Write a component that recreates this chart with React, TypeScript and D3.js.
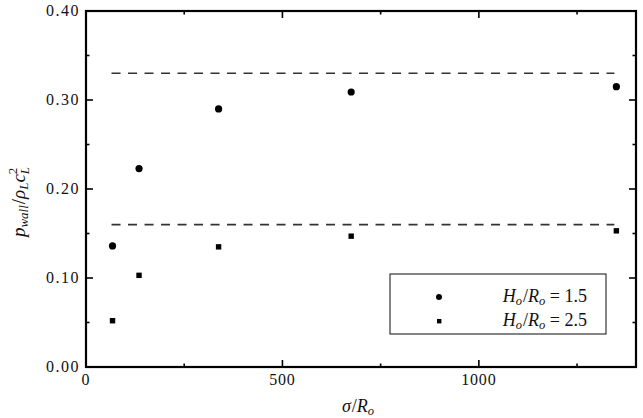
import React from "react";
import * as d3 from "d3";

// sigma / R_o positions of the runs
const sigmaValues = [67.5, 135, 337.5, 675, 1350];
// p_wall / rho_L c_L^2 for each nozzle height
const seriesH15 = [0.136, 0.223, 0.29, 0.309, 0.315];
const seriesH25 = [0.052, 0.103, 0.135, 0.147, 0.153];
// dashed reference levels
const limitLevels = [0.33, 0.16];
const limitRange = [65, 1345];

const xMajor = [0, 500, 1000];
const xMinor = [250, 750, 1250];
const yMajor = [0, 0.1, 0.2, 0.3, 0.4];
const yMinor = [0.05, 0.15, 0.25, 0.35];

const W = 643;
const H = 418;
const margin = { top: 11, right: 7, bottom: 51, left: 86 };

const serif = "'Liberation Serif', 'DejaVu Serif', serif";

export default function App() {
  const x = d3
    .scaleLinear()
    .domain([0, 1400])
    .range([margin.left, W - margin.right]);
  const y = d3
    .scaleLinear()
    .domain([0, 0.4])
    .range([H - margin.bottom, margin.top]);

  const [x0, x1] = x.range();
  const [y0, y1] = y.range();

  const pts1 = sigmaValues.map((s, i) => ({ s, v: seriesH15[i] }));
  const pts2 = sigmaValues.map((s, i) => ({ s, v: seriesH25[i] }));

  return (
    <svg
      width={W}
      height={H}
      style={{ position: "absolute", left: 0, top: 0, background: "#fff" }}
      fontFamily={serif}
    >
      <rect x={0} y={0} width={W} height={H} fill="#fff" />

      {/* reference levels */}
      {limitLevels.map((lv) => (
        <line
          key={lv}
          x1={x(limitRange[0])}
          x2={x(limitRange[1])}
          y1={y(lv)}
          y2={y(lv)}
          stroke="#333"
          strokeWidth={1.6}
          strokeDasharray="9,7.5"
        />
      ))}

      {/* x ticks, bottom and top */}
      {xMajor.concat(xMinor).map((t) => {
        const len = xMajor.includes(t) ? 7 : 3.5;
        return (
          <g key={"x" + t} stroke="#000" strokeWidth={1.6}>
            <line x1={x(t)} x2={x(t)} y1={y0} y2={y0 - len} />
            <line x1={x(t)} x2={x(t)} y1={y1} y2={y1 + len} />
          </g>
        );
      })}
      {/* y ticks, left and right */}
      {yMajor.concat(yMinor).map((t) => {
        const len = yMajor.includes(t) ? 7 : 3.5;
        return (
          <g key={"y" + t} stroke="#000" strokeWidth={1.6}>
            <line x1={x0} x2={x0 + len} y1={y(t)} y2={y(t)} />
            <line x1={x1} x2={x1 - len} y1={y(t)} y2={y(t)} />
          </g>
        );
      })}

      {/* frame */}
      <rect
        x={x0}
        y={y1}
        width={x1 - x0}
        height={y0 - y1}
        fill="none"
        stroke="#000"
        strokeWidth={2.2}
      />

      {/* tick labels */}
      {xMajor.map((t) => (
        <text
          key={"xl" + t}
          x={x(t)}
          y={y0 + 18}
          textAnchor="middle"
          fontSize={16}
          letterSpacing={0.8}
          fill="#111"
        >
          {t}
        </text>
      ))}
      {yMajor.map((t) => (
        <text
          key={"yl" + t}
          x={x0 - 6}
          y={y(t) + 5}
          textAnchor="end"
          fontSize={16}
          letterSpacing={1.5}
          fill="#111"
        >
          {d3.format(".2f")(t)}
        </text>
      ))}

      {/* data */}
      {pts1.map((d) => (
        <circle key={"c" + d.s} cx={x(d.s)} cy={y(d.v)} r={3.6} fill="#000" />
      ))}
      {pts2.map((d) => (
        <rect
          key={"s" + d.s}
          x={x(d.s) - 2.7}
          y={y(d.v) - 2.7}
          width={5.4}
          height={5.4}
          fill="#000"
        />
      ))}

      {/* legend */}
      <g>
        <rect x={390} y={274} width={216} height={60} fill="#fff" stroke="#222" strokeWidth={1.1} />
        <circle cx={439} cy={297} r={3} fill="#000" />
        <rect x={437} y={319} width={4.4} height={4.4} fill="#000" />
        {["1.5", "2.5"].map((v, i) => (
          <text
            key={v}
            x={587}
            y={302 + i * 24}
            textAnchor="end"
            fontSize={18}
            fill="#111"
          >
            <tspan fontStyle="italic">H</tspan>
            <tspan fontStyle="italic" fontSize={12.5} dy={3}>o</tspan>
            <tspan dy={-3} dx={1}>/</tspan>
            <tspan fontStyle="italic">R</tspan>
            <tspan fontStyle="italic" fontSize={12.5} dy={3}>o</tspan>
            <tspan dy={-3}>{" = " + v}</tspan>
          </text>
        ))}
      </g>

      {/* axis titles */}
      <text x={(x0 + x1) / 2 - 3} y={412} textAnchor="middle" fontSize={18} fill="#111">
        <tspan fontStyle="italic">σ</tspan>
        <tspan dx={1}>/</tspan>
        <tspan fontStyle="italic">R</tspan>
        <tspan fontStyle="italic" fontSize={12.5} dy={3}>o</tspan>
      </text>
      <text
        transform={`translate(25, ${(y0 + y1) / 2 + 13}) rotate(-90)`}
        textAnchor="middle"
        fontSize={19}
        fill="#111"
      >
        <tspan fontStyle="italic">p</tspan>
        <tspan fontStyle="italic" fontSize={13} dy={3}>wall</tspan>
        <tspan dy={-3} dx={1}>/</tspan>
        <tspan fontStyle="italic">ρ</tspan>
        <tspan fontStyle="italic" fontSize={13} dy={3}>L</tspan>
        <tspan fontStyle="italic" dy={-3}>c</tspan>
        <tspan fontSize={13} dy={-8}>2</tspan>
        <tspan fontStyle="italic" fontSize={13} dx={-6.5} dy={12}>L</tspan>
      </text>
    </svg>
  );
}
